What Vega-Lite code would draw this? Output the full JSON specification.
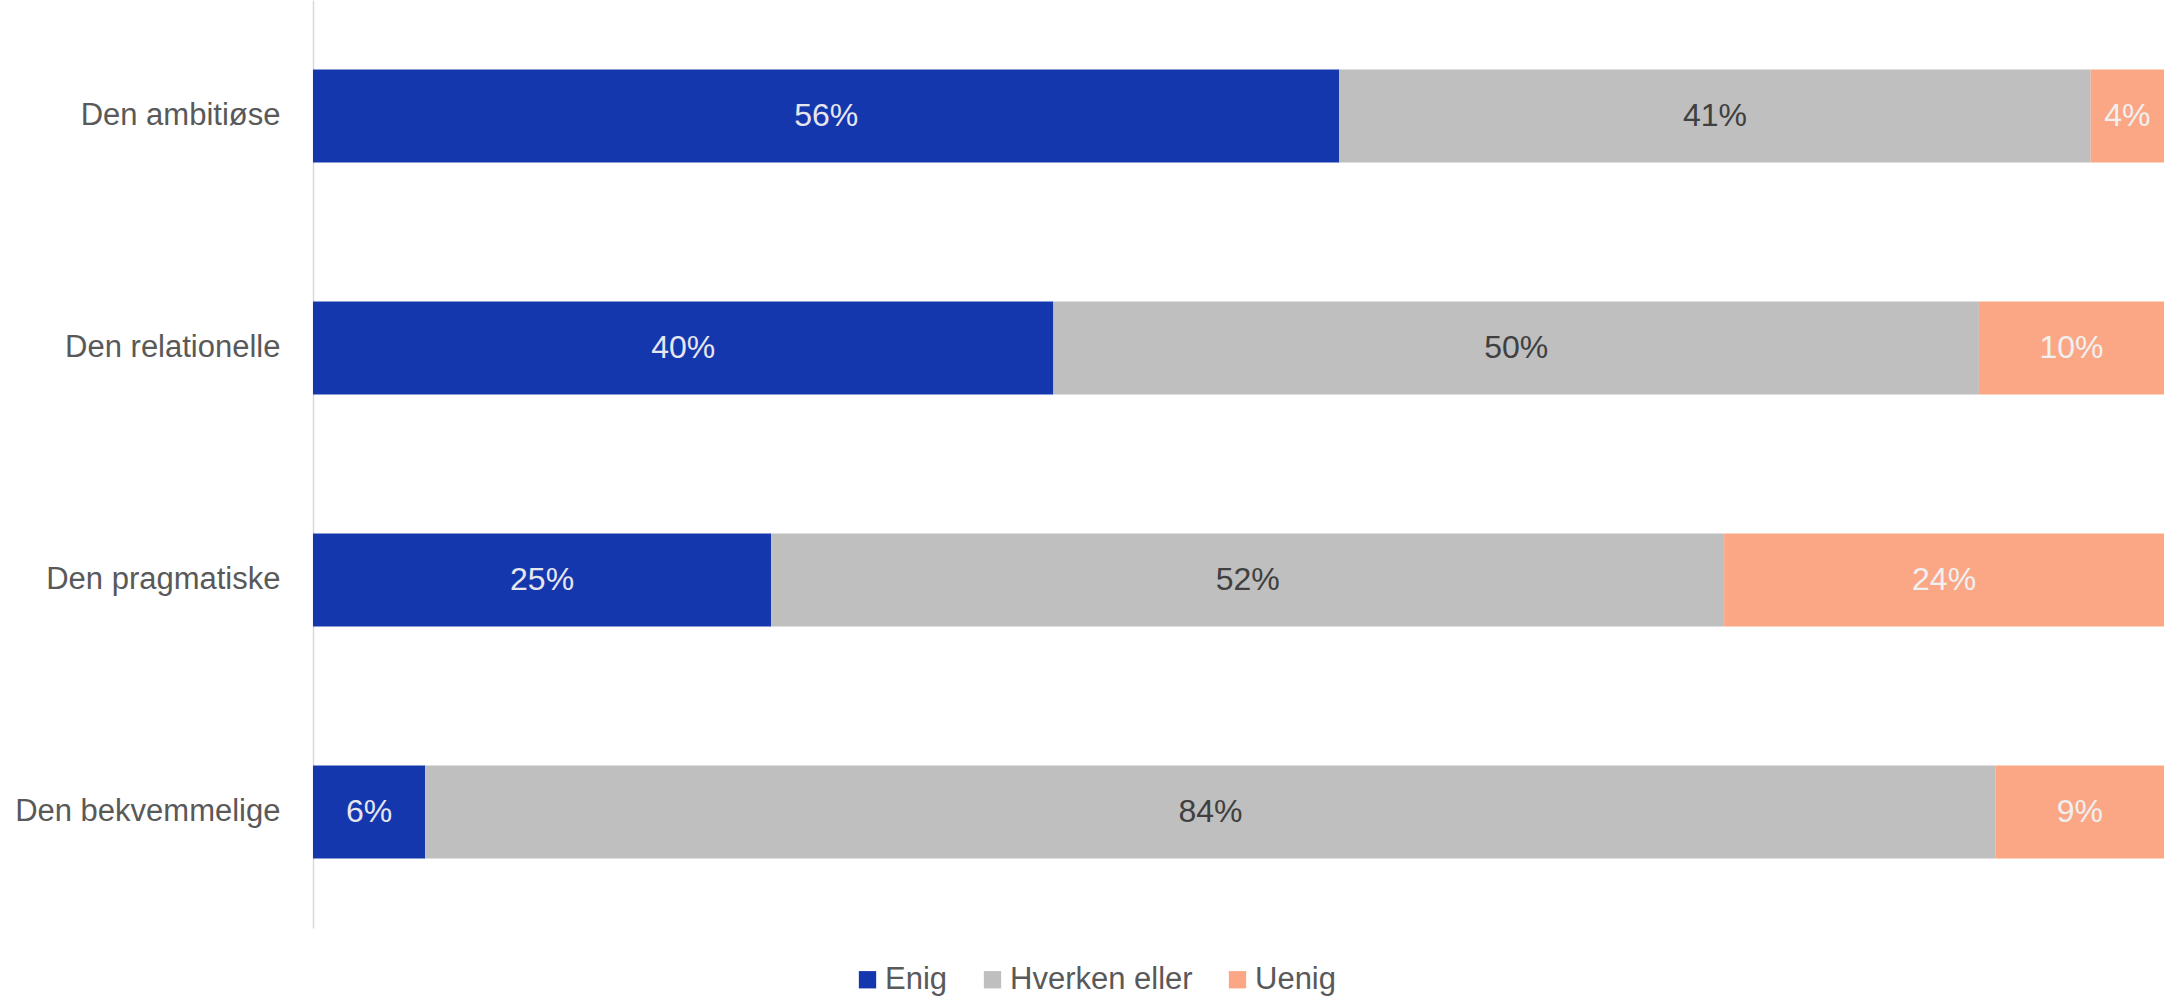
{
  "$schema": "https://vega.github.io/schema/vega-lite/v6.json",
  "width": 1851,
  "height": 928,
  "autosize": {"type": "none"},
  "padding": {"left": 313, "top": 0, "right": 0, "bottom": 73},
  "background": "white",
  "config": {
    "view": {"stroke": null},
    "font": "Liberation Sans"
  },
  "data": {
    "values": [
      {"row": "Den ambitiøse", "cat": "Enig", "value": 56},
      {"row": "Den ambitiøse", "cat": "Hverken eller", "value": 41},
      {"row": "Den ambitiøse", "cat": "Uenig", "value": 4},
      {"row": "Den relationelle", "cat": "Enig", "value": 40},
      {"row": "Den relationelle", "cat": "Hverken eller", "value": 50},
      {"row": "Den relationelle", "cat": "Uenig", "value": 10},
      {"row": "Den pragmatiske", "cat": "Enig", "value": 25},
      {"row": "Den pragmatiske", "cat": "Hverken eller", "value": 52},
      {"row": "Den pragmatiske", "cat": "Uenig", "value": 24},
      {"row": "Den bekvemmelige", "cat": "Enig", "value": 6},
      {"row": "Den bekvemmelige", "cat": "Hverken eller", "value": 84},
      {"row": "Den bekvemmelige", "cat": "Uenig", "value": 9}
    ]
  },
  "transform": [
    {"stack": "value", "groupby": ["row"], "sort": [{"field": "cat", "order": "ascending"}], "offset": "normalize", "as": ["x0", "x1"]},
    {"calculate": "(datum.x0 + datum.x1) / 2", "as": "xmid"},
    {"calculate": "datum.value + '%'", "as": "label"}
  ],
  "encoding": {
    "y": {
      "field": "row",
      "type": "nominal",
      "sort": null,
      "scale": {"paddingInner": 0.6, "paddingOuter": 0.3},
      "axis": {
        "title": null,
        "ticks": false,
        "domainColor": "#d9d9d9",
        "domainWidth": 1.5,
        "labelColor": "#595959",
        "labelFontSize": 31,
        "labelPadding": 33,
        "labelLimit": 0,
        "labelFont": "Liberation Sans"
      }
    }
  },
  "layer": [
    {
      "mark": {"type": "bar"},
      "encoding": {
        "x": {"field": "x0", "type": "quantitative", "scale": {"domain": [0, 1], "nice": false, "zero": true}, "axis": null},
        "x2": {"field": "x1"},
        "color": {
          "field": "cat",
          "type": "nominal",
          "scale": {"domain": ["Enig", "Hverken eller", "Uenig"], "range": ["#1537ad", "#bfbfbf", "#fba786"]},
          "legend": {
            "title": null,
            "orient": "none",
            "direction": "horizontal",
            "legendX": 539,
            "legendY": 964,
            "padding": 0,
            "symbolType": "square",
            "symbolSize": 300,
            "symbolStrokeWidth": 0,
            "labelFontSize": 31,
            "labelColor": "#595959",
            "labelFont": "Liberation Sans",
            "labelOffset": 2,
            "columnPadding": 29,
            "labelLimit": 0
          }
        }
      }
    },
    {
      "mark": {"type": "text", "fontSize": 32, "baseline": "middle", "align": "center", "font": "Liberation Sans"},
      "encoding": {
        "x": {"field": "xmid", "type": "quantitative"},
        "text": {"field": "label"},
        "color": {
          "field": "cat",
          "type": "nominal",
          "scale": {"domain": ["Enig", "Hverken eller", "Uenig"], "range": ["#e6e6ee", "#404040", "#f0f0f0"]},
          "legend": null
        }
      }
    }
  ],
  "resolve": {"scale": {"color": "independent"}}
}
